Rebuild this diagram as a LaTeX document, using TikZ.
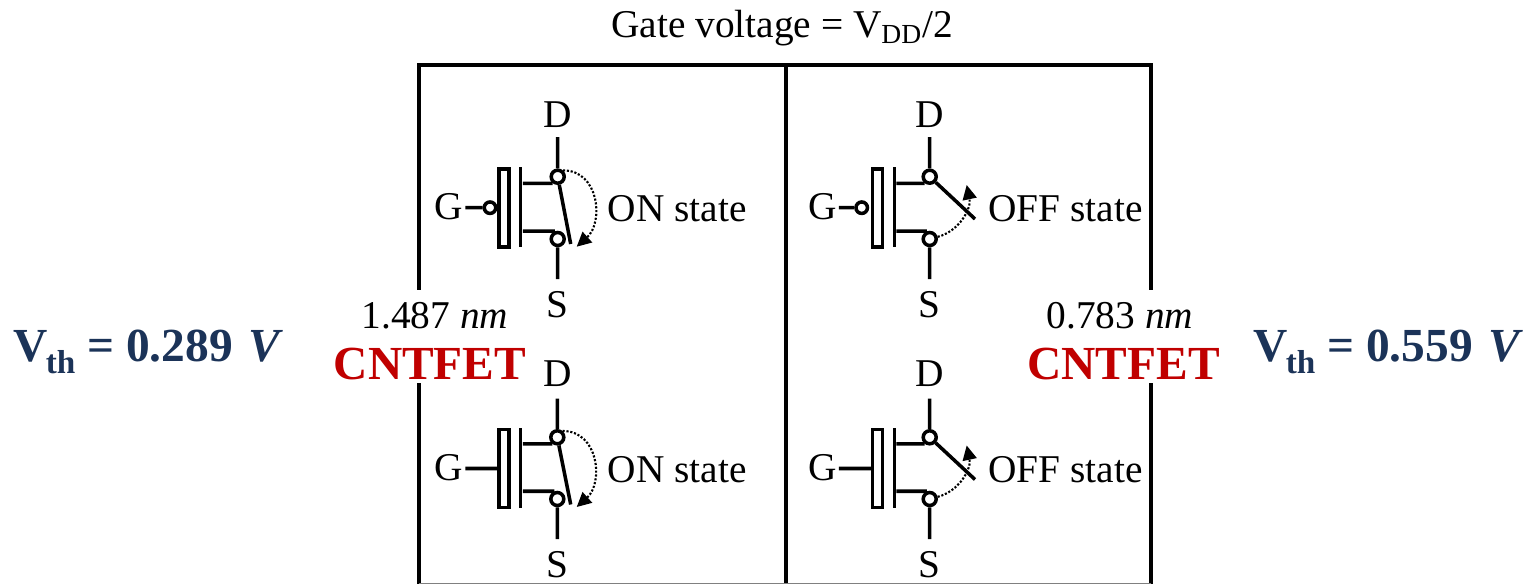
\documentclass[tikz,border=0pt]{standalone}
\usepackage{fontspec}
\usepackage{xcolor}
\usetikzlibrary{shapes, arrows.meta}
\setmainfont{Liberation Serif}
\definecolor{deviceblue}{HTML}{1B3358}
\definecolor{devicered}{HTML}{C00000}
\tikzset{
    label text/.style={anchor=base, inner sep=0pt, font=\fontsize{22.4}{26}\selectfont},
    terminal/.style={label text, inner sep=6.5pt},
    big text/.style={anchor=base, inner sep=0pt, font=\fontsize{27}{30}\selectfont\bfseries},
    contact/.style={circle, draw, line width=2pt, fill=white, inner sep=0pt, minimum size=.26cm},
    gate contact/.style={contact, minimum size=.23cm},
    gate box/.style={rectangle, draw, line width=2pt, inner sep=0pt, minimum width=.2cm, minimum height=1.56cm},
    channel/.style={rectangle, fill=black, inner sep=0pt, minimum width=2pt, minimum height=1.6cm},
    wire/.style={line width=2pt},
    state arc/.style={line width=1.2pt, densely dotted, -{Triangle[length=8.2pt,width=8pt]}}
}

\begin{document}
\begin{tikzpicture}[x=.02cm, y=-.02cm]
        \useasboundingbox (0, 0) rectangle (1528, 584);

        % frame
        \coordinate (la) at (419, 65);
        \coordinate (lb) at (419, 288);
        \coordinate (lc) at (419, 385);
        \coordinate (ld) at (419, 584);
        \coordinate (ma) at (786, 65);
        \coordinate (md) at (786, 584);
        \coordinate (ra) at (1151, 65);
        \coordinate (rb) at (1151, 288);
        \coordinate (rc) at (1151, 385);
        \coordinate (rd) at (1151, 584);
        \coordinate (ba) at (419, 583.5);
        \coordinate (bb) at (1151, 583.5);
        \draw[line width=1.8pt, line cap=rect] (lb) to (la) to (ra) to (rb)
            (lc) to (ld)
            (rc) to (rd)
            (ma) to (md);
        \draw[gray, line width=.5pt] (ba) to (bb);

        % texts
        \node[label text] (title) at (782, 38) {Gate voltage = V\textsubscript{DD}/2};
        \node[label text] (dial) at (435, 328) {1.487 \textit{nm}};
        \node[label text] (diar) at (1120, 328) {0.783 \textit{nm}};
        \node[big text, text=devicered] (cntl) at (430, 379) {CNTFET};
        \node[big text, text=devicered] (cntr) at (1123.5, 379) {CNTFET};
        \node[big text, text=deviceblue, anchor=base west] (vthl) at (13, 361.5) {V\kern-1pt\raisebox{-2.5pt}{\textsubscript{th}}\kern-.5pt{} = 0.289\kern2pt{} \textit{V}};
        \node[big text, text=deviceblue, anchor=base west] (vthr) at (1253, 361.5) {V\kern-1pt\raisebox{-2.5pt}{\textsubscript{th}}\kern-.5pt{} = 0.559\kern2pt{} \textit{V}};

        % top left, on
        \node[terminal, inner sep=5pt] (da) at (557.7, 128) {D};
        \node[terminal] (sa) at (557.7, 317) {S};
        \node[label text, inner sep=1pt] (ga) at (449, 220) {G};
        \node[contact] (dca) at (557.7, 176.7) {};
        \node[contact] (sca) at (557.7, 239) {};
        \node[gate contact] (gca) at (490, 207.7) {};
        \node[gate box] (boxa) at (504, 208) {};
        \node[channel] (bara) at (520.7, 207) {};
        \node[label text, anchor=base west] (sta) at (607.5, 222) {ON state};
        \coordinate (swa) at (570.7, 244);
        \coordinate (tipa) at (576.7, 246.7);

        % top right, off
        \node[terminal, inner sep=5pt] (db) at (929.7, 128) {D};
        \node[terminal] (sb) at (929.7, 317) {S};
        \node[label text, inner sep=1pt] (gb) at (822.5, 220) {G};
        \node[contact] (dcb) at (929.7, 176.7) {};
        \node[contact] (scb) at (929.7, 239) {};
        \node[gate contact] (gcb) at (861.7, 207.7) {};
        \node[gate box] (boxb) at (877.5, 208) {};
        \node[channel] (barb) at (894.3, 207) {};
        \node[label text, anchor=base west] (stb) at (988, 222) {OFF state};
        \coordinate (swb) at (975, 219);
        \coordinate (tipb) at (966.7, 185);

        % bottom left, on
        \node[terminal] (dc) at (557.3, 386.7) {D};
        \node[terminal] (sc) at (557.3, 577) {S};
        \node[label text, inner sep=1pt] (gc) at (449, 480) {G};
        \node[contact] (dcc) at (557.3, 437.3) {};
        \node[contact] (scc) at (557.3, 499) {};
        \node[gate box] (boxc) at (504, 468.5) {};
        \node[channel] (barc) at (520.7, 468) {};
        \node[label text, anchor=base west] (stc) at (607.5, 482) {ON state};
        \coordinate (swc) at (570.7, 504.5);
        \coordinate (tipc) at (576.7, 507);

        % bottom right, off
        \node[terminal] (dd) at (929.7, 386.7) {D};
        \node[terminal] (sd) at (929.7, 577) {S};
        \node[label text, inner sep=1pt] (gd) at (822.5, 480) {G};
        \node[contact] (dcd) at (929.7, 437.3) {};
        \node[contact] (scd) at (929.7, 499) {};
        \node[gate box] (boxd) at (877.5, 468.5) {};
        \node[channel] (bard) at (894.3, 468) {};
        \node[label text, anchor=base west] (std) at (988, 482) {OFF state};
        \coordinate (swd) at (975, 479.5);
        \coordinate (tipd) at (966.7, 445.5);

        \draw[wire] (da) to (dca)
            (sa) to (sca)
            (bara.east |- dca.-127) to (dca.-127)
            (bara.east |- sca.110) to (sca.110)
            (ga.east |- gca) to (gca)
            (dca) to (swa)
            (db) to (dcb)
            (sb) to (scb)
            (barb.east |- dcb.-127) to (dcb.-127)
            (barb.east |- scb.110) to (scb.110)
            (gb.east |- gcb) to (gcb)
            (dcb) to (swb)
            (dc) to (dcc)
            (sc) to (scc)
            (barc.east |- dcc.-127) to (dcc.-127)
            (barc.east |- scc.110) to (scc.110)
            (gc.east |- boxc) to (boxc)
            (dcc) to (swc)
            (dd) to (dcd)
            (sd) to (scd)
            (bard.east |- dcd.-127) to (dcd.-127)
            (bard.east |- scd.110) to (scd.110)
            (gd.east |- boxd) to (boxd)
            (dcd) to (swd);

        \draw[state arc] (dca.50) to[out=0, in=42, looseness=1.2] (tipa);
        \draw[state arc] (dcc.50) to[out=0, in=42, looseness=1.2] (tipc);
        \draw[state arc] (scb.15) to[out=15, in=-78] (tipb);
        \draw[state arc] (scd.15) to[out=15, in=-78] (tipd);
    \end{tikzpicture}
\end{document}
